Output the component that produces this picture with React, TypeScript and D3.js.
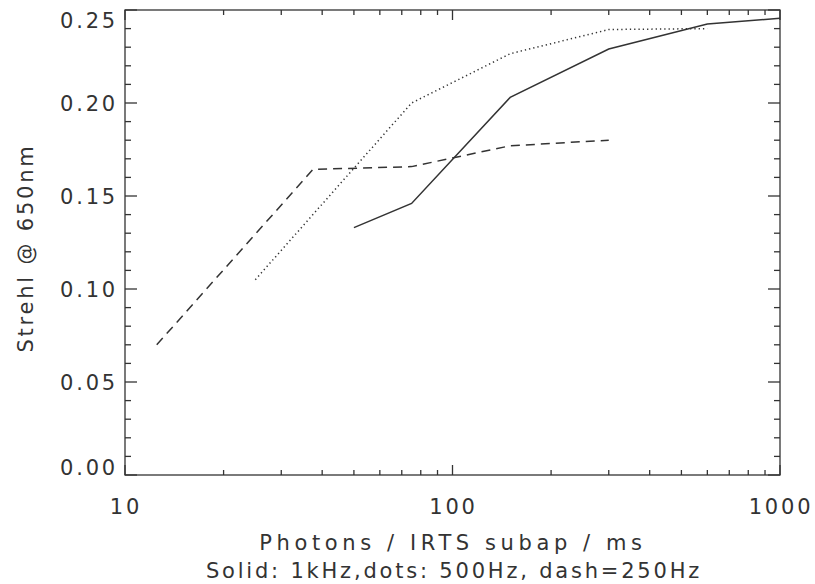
import React from "react";
import * as d3 from "d3";

// photons / IRTS subap / ms
const solidX = [50, 75, 150, 300, 600, 1000];
const solidY = [0.133, 0.146, 0.203, 0.229, 0.2425, 0.2455];
const dotsX = [25, 75, 150, 300, 600];
const dotsY = [0.105, 0.2, 0.2265, 0.2395, 0.24];
const dashX = [12.5, 37.5, 75, 150, 300];
const dashY = [0.07, 0.1643, 0.1658, 0.177, 0.18];

const yTicks = [0, 0.05, 0.1, 0.15, 0.2, 0.25];
const xTicks = [10, 100, 1000];

const W = 815;
const H = 584;
const left = 125, right = 780, top = 10, bottom = 475;
const ink = "#333";
const font = "DejaVu Sans, sans-serif";

export default function App() {
  const x = d3.scaleLog().domain([10, 1000]).range([left, right]);
  const y = d3.scaleLinear().domain([0, 0.25]).range([bottom, top]);

  const line = (xs: number[], ys: number[]) =>
    d3
      .line<number>()
      .x((d) => x(d))
      .y((_, i) => y(ys[i]))(xs) || "";

  const yMinor = d3.range(0, 0.2501, 0.01);
  const xMinor: number[] = [];
  [10, 100].forEach((b) => {
    for (let k = 2; k <= 9; k++) xMinor.push(b * k);
  });

  return (
    <svg width={W} height={H} style={{ position: "absolute", left: 0, top: 0 }}>
      <rect x={0} y={0} width={W} height={H} fill="#fff" />
      <g stroke={ink} strokeWidth={1.3} fill="none">
        <rect x={left} y={top} width={right - left} height={bottom - top} />
        {yMinor.map((v, i) => {
          const major = i % 5 === 0;
          const len = major ? 12 : 6;
          return (
            <g key={"y" + i}>
              <line x1={left} x2={left + len} y1={y(v)} y2={y(v)} />
              <line x1={right} x2={right - len} y1={y(v)} y2={y(v)} />
            </g>
          );
        })}
        {xMinor.concat(xTicks).map((v, i) => {
          const major = xTicks.includes(v);
          const len = major ? 10 : 5;
          return (
            <g key={"x" + i}>
              <line x1={x(v)} x2={x(v)} y1={bottom} y2={bottom - len} />
              <line x1={x(v)} x2={x(v)} y1={top} y2={top + len} />
            </g>
          );
        })}
      </g>
      <g stroke={ink} strokeWidth={1.5} fill="none">
        <path d={line(solidX, solidY)} />
        <path d={line(dotsX, dotsY)} strokeDasharray="1.3 3" />
        <path d={line(dashX, dashY)} strokeDasharray="9 6" />
      </g>
      <g fill={ink} fontFamily={font} fontSize={21} letterSpacing={2.8}>
        {yTicks.map((v, i) => {
          let yy = y(v) + 8;
          if (i === 0) yy -= 8;
          if (i === yTicks.length - 1) yy += 10;
          return (
            <text key={"yl" + i} x={left - 7} y={yy} textAnchor="end">
              {v.toFixed(2)}
            </text>
          );
        })}
        {xTicks.map((v, i) => (
          <text key={"xl" + i} x={x(v) + 1} y={514} textAnchor="middle">
            {String(v)}
          </text>
        ))}
        <text x={453} y={550} textAnchor="middle" letterSpacing={4.6}>
          Photons / IRTS subap / ms
        </text>
        <text x={454} y={578} textAnchor="middle">
          Solid: 1kHz,dots: 500Hz, dash=250Hz
        </text>
        <text
          transform={`translate(33,${248}) rotate(-90)`}
          textAnchor="middle"
        >
          Strehl @ 650nm
        </text>
      </g>
    </svg>
  );
}
